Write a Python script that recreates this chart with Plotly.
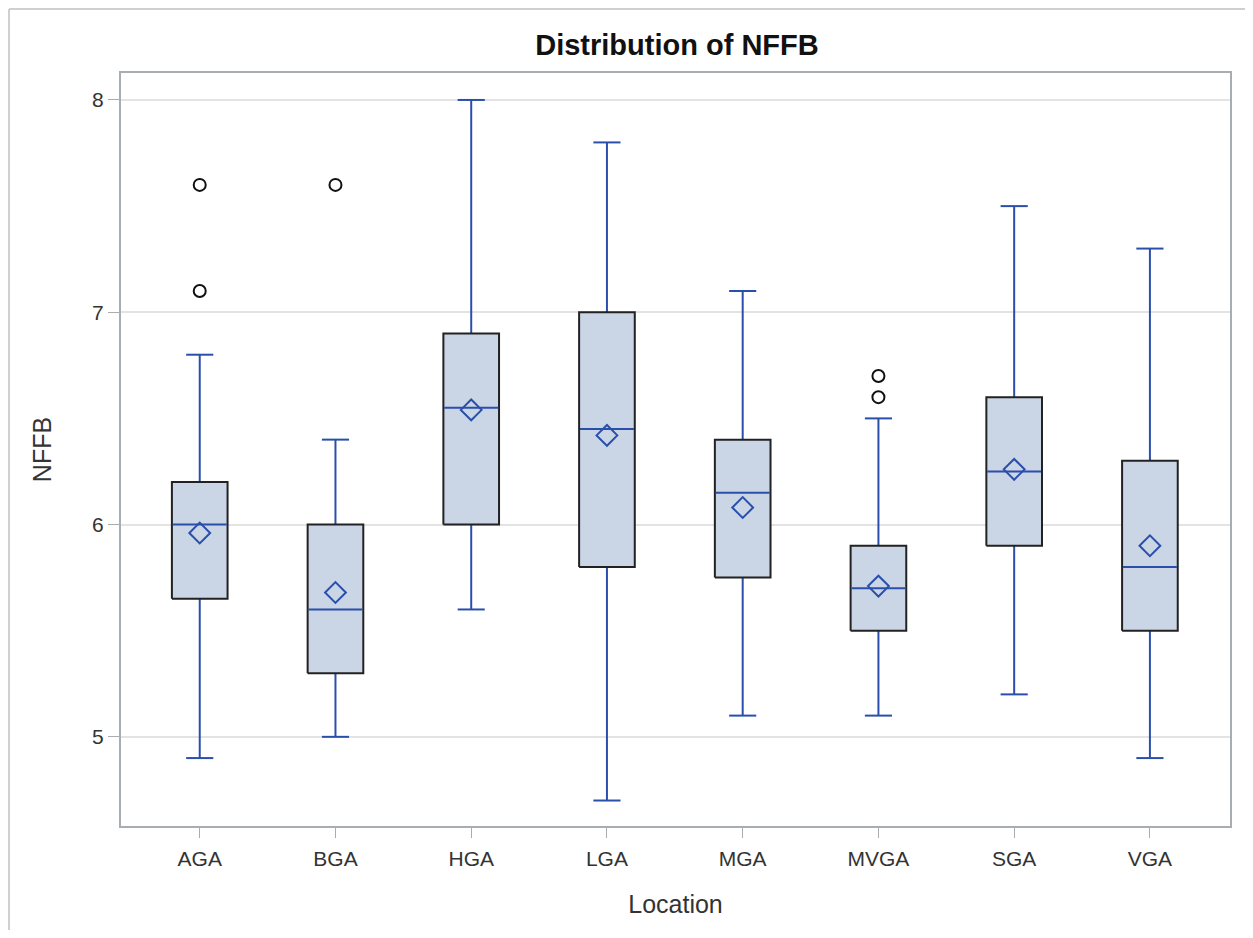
import plotly.graph_objects as go

locations = ["AGA", "BGA", "HGA", "LGA", "MGA", "MVGA", "SGA", "VGA"]
q1 = [5.65, 5.3, 6.0, 5.8, 5.75, 5.5, 5.9, 5.5]
median = [6.0, 5.6, 6.55, 6.45, 6.15, 5.7, 6.25, 5.8]
q3 = [6.2, 6.0, 6.9, 7.0, 6.4, 5.9, 6.6, 6.3]
mean = [5.96, 5.68, 6.54, 6.42, 6.08, 5.71, 6.26, 5.9]
lower_whisker = [4.9, 5.0, 5.6, 4.7, 5.1, 5.1, 5.2, 4.9]
upper_whisker = [6.8, 6.4, 8.0, 7.8, 7.1, 6.5, 7.5, 7.3]
outlier_loc = ["AGA", "AGA", "BGA", "MVGA", "MVGA"]
outlier_val = [7.1, 7.6, 7.6, 6.6, 6.7]

BLUE = "#2A4FAB"
FILL = "#CAD5E5"
BOX_W = 0.41
CAP_W = 0.2

idx = {c: i for i, c in enumerate(locations)}
fig = go.Figure()

# whiskers (blue)
wx, wy = [], []
for i in range(len(locations)):
    wx += [i, i, None, i, i, None]
    wy += [q3[i], upper_whisker[i], None, q1[i], lower_whisker[i], None]
    wx += [i - CAP_W / 2, i + CAP_W / 2, None, i - CAP_W / 2, i + CAP_W / 2, None]
    wy += [upper_whisker[i], upper_whisker[i], None, lower_whisker[i], lower_whisker[i], None]
fig.add_trace(go.Scatter(x=wx, y=wy, mode="lines", line=dict(color=BLUE, width=2),
                         hoverinfo="skip", showlegend=False))

# boxes (dark outline, light fill)
for i in range(len(locations)):
    x0, x1 = i - BOX_W / 2, i + BOX_W / 2
    fig.add_trace(go.Scatter(x=[x0, x1, x1, x0, x0], y=[q1[i], q1[i], q3[i], q3[i], q1[i]],
                             mode="lines", fill="toself", fillcolor=FILL,
                             line=dict(color="#222222", width=2),
                             hoverinfo="skip", showlegend=False))

# median lines (blue)
mx, my = [], []
for i in range(len(locations)):
    mx += [i - BOX_W / 2 + 0.006, i + BOX_W / 2 - 0.006, None]
    my += [median[i], median[i], None]
fig.add_trace(go.Scatter(x=mx, y=my, mode="lines", line=dict(color=BLUE, width=2),
                         hoverinfo="skip", showlegend=False))

# means
fig.add_trace(go.Scatter(x=list(range(len(locations))), y=mean, mode="markers",
                         marker=dict(symbol="diamond-open", size=16, color=BLUE,
                                     line=dict(width=2, color=BLUE)),
                         showlegend=False))

# outliers
fig.add_trace(go.Scatter(x=[idx[c] for c in outlier_loc], y=outlier_val, mode="markers",
                         marker=dict(symbol="circle-open", size=12, color="#111111",
                                     line=dict(width=2, color="#111111")),
                         showlegend=False))

W, H = 1245, 922
L, R, T, B = 113, 23, 65, 104
pw, ph = W - L - R, H - T - B

xl, xr = -(L - 1) / pw, 1 + (R - 1) / pw
yt, yb = 1 + (T - 1) / ph, -B / ph
border = dict(color="#D0D0D0", width=2)

fig.update_layout(
    width=W, height=H,
    margin=dict(l=L, r=R, t=T, b=B),
    paper_bgcolor="white", plot_bgcolor="white",
    font=dict(family="Liberation Sans, Arial, sans-serif", color="#333333", size=21),
    title=dict(text="<b>Distribution of NFFB</b>", x=669 / W, xanchor="center",
               y=1 - 37 / H, yanchor="middle",
               font=dict(size=29, color="#111111")),
    xaxis=dict(range=[-0.58, 7.59], tickvals=list(range(len(locations))), ticktext=locations,
               showgrid=False, zeroline=False, showline=True, linecolor="#A8ADB2", linewidth=2,
               mirror=True, ticks="outside", ticklen=10, tickcolor="#A8ADB2",
               ticklabelstandoff=3,
               title=dict(text="Location", font=dict(size=25, color="#333333"), standoff=26),
               tickfont=dict(size=21, color="#333333")),
    yaxis=dict(range=[4.58, 8.127], tickvals=[5, 6, 7, 8],
               showgrid=True, gridcolor="#E3E3E3", gridwidth=2, zeroline=False,
               showline=True, linecolor="#A8ADB2", linewidth=2, mirror=True,
               ticks="outside", ticklen=11, tickcolor="#A8ADB2",
               title=dict(text="NFFB", font=dict(size=25, color="#333333"), standoff=33),
               tickfont=dict(size=21, color="#333333")),
    shapes=[
        dict(type="line", xref="paper", yref="paper", x0=xl, x1=xl, y0=yb, y1=yt, line=border),
        dict(type="line", xref="paper", yref="paper", x0=xl, x1=xr, y0=yt, y1=yt, line=border),
        dict(type="line", xref="paper", yref="paper", x0=xr, x1=xr, y0=yb, y1=yt, line=border),
    ],
)

fig.write_html("out.html")
